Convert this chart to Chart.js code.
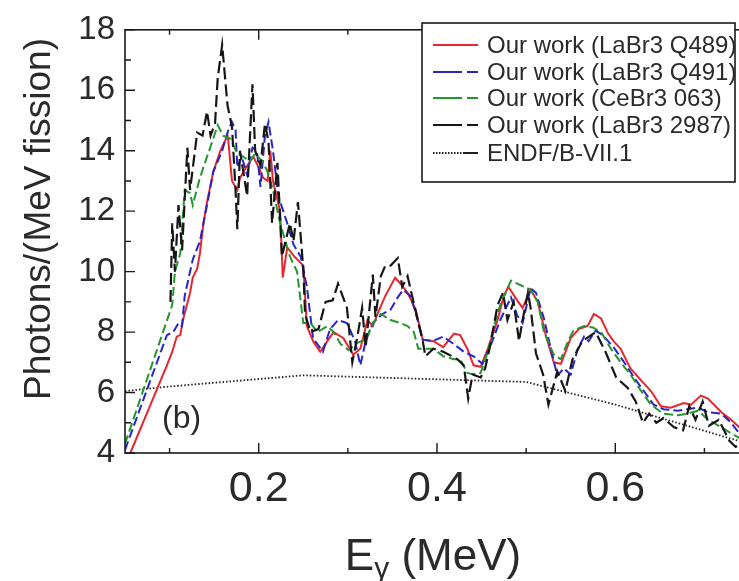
<!DOCTYPE html>
<html>
<head>
<meta charset="utf-8">
<script src="https://cdn.jsdelivr.net/npm/chart.js@4.4.1/dist/chart.umd.min.js"></script>
<style>
    html, body { margin: 0; padding: 0; background: #fff; overflow: hidden; }
    #wrap { width: 760px; height: 581px; }
</style>
</head>
<body>
<div id="wrap"><canvas id="spectrum" width="760" height="581"></canvas></div>
<script>
// photon spectra, E in MeV, photons/(MeV fission)
const eQ489 = [0.056, 0.097, 0.103, 0.108, 0.112, 0.115, 0.123, 0.126, 0.131, 0.134, 0.138, 0.142, 0.149, 0.157, 0.165, 0.166, 0.170, 0.176, 0.179, 0.187, 0.194, 0.199, 0.205, 0.210, 0.213, 0.216, 0.224, 0.227, 0.232, 0.240, 0.250, 0.254, 0.261, 0.269, 0.277, 0.284, 0.295, 0.306, 0.314, 0.322, 0.328, 0.334, 0.342, 0.353, 0.359, 0.367, 0.376, 0.384, 0.396, 0.407, 0.419, 0.426, 0.434, 0.441, 0.449, 0.457, 0.468, 0.475, 0.480, 0.490, 0.496, 0.505, 0.513, 0.522, 0.531, 0.539, 0.550, 0.559, 0.569, 0.576, 0.584, 0.592, 0.598, 0.606, 0.617, 0.629, 0.640, 0.651, 0.662, 0.677, 0.685, 0.696, 0.704, 0.719, 0.730, 0.739, 0.750];
const yQ489 = [4.0, 6.9, 7.35, 7.85, 7.9, 8.4, 9.3, 9.8, 10.1, 10.6, 11.6, 12.3, 13.3, 14.0, 14.5, 14.3, 13.0, 12.7, 13.1, 13.5, 13.8, 13.5, 13.1, 13.0, 14.0, 13.0, 12.0, 9.8, 10.8, 10.5, 10.2, 8.2, 7.7, 7.35, 7.7, 8.0, 7.8, 7.25, 7.45, 8.4, 8.2, 8.65, 9.2, 9.8, 9.6, 9.3, 8.75, 7.75, 7.7, 7.5, 7.95, 7.9, 7.45, 6.9, 6.85, 7.45, 8.4, 9.2, 9.5, 9.05, 8.8, 9.4, 9.0, 7.9, 7.0, 6.95, 7.8, 8.1, 8.2, 8.6, 8.45, 7.95, 7.7, 7.45, 6.8, 6.4, 6.05, 5.55, 5.5, 5.65, 5.6, 5.9, 5.8, 5.35, 5.1, 4.85, 4.6];

const eQ491 = [0.050, 0.097, 0.104, 0.110, 0.114, 0.117, 0.126, 0.134, 0.142, 0.149, 0.159, 0.166, 0.170, 0.174, 0.176, 0.181, 0.187, 0.193, 0.198, 0.202, 0.207, 0.211, 0.216, 0.222, 0.232, 0.239, 0.247, 0.254, 0.261, 0.272, 0.280, 0.289, 0.299, 0.308, 0.314, 0.320, 0.328, 0.339, 0.348, 0.356, 0.362, 0.370, 0.376, 0.384, 0.395, 0.407, 0.419, 0.430, 0.441, 0.451, 0.462, 0.471, 0.483, 0.490, 0.496, 0.505, 0.511, 0.520, 0.528, 0.535, 0.542, 0.550, 0.558, 0.565, 0.570, 0.578, 0.586, 0.598, 0.610, 0.621, 0.632, 0.643, 0.654, 0.670, 0.681, 0.693, 0.704, 0.719, 0.730, 0.739, 0.750];
const yQ491 = [4.1, 7.9, 8.0, 8.3, 8.2, 9.2, 10.4, 11.0, 12.2, 13.3, 14.0, 14.7, 14.95, 14.7, 13.45, 13.8, 13.2, 14.1, 14.0, 12.8, 14.5, 14.95, 14.0, 12.5, 11.6, 10.9, 10.5, 9.5, 7.8, 7.35, 8.1, 8.4, 8.3, 7.7, 6.9, 7.7, 8.3, 8.6, 8.75, 9.15, 9.4, 9.2, 8.65, 7.75, 7.7, 7.85, 7.6, 7.35, 7.2, 6.95, 7.7, 8.4, 9.15, 8.55, 8.3, 9.45, 9.3, 8.45, 7.4, 6.55, 6.8, 6.6, 7.45, 7.85, 7.7, 8.05, 7.9, 7.5, 7.0, 6.5, 6.05, 5.6, 5.45, 5.4, 5.45, 5.5, 5.35, 5.3, 5.0, 4.65, 4.4];

const eCe063 = [0.050, 0.103, 0.106, 0.112, 0.117, 0.123, 0.126, 0.134, 0.142, 0.149, 0.154, 0.160, 0.168, 0.176, 0.183, 0.190, 0.196, 0.204, 0.210, 0.216, 0.224, 0.230, 0.235, 0.243, 0.250, 0.258, 0.266, 0.277, 0.284, 0.292, 0.301, 0.311, 0.320, 0.328, 0.337, 0.348, 0.359, 0.367, 0.374, 0.379, 0.387, 0.396, 0.407, 0.419, 0.426, 0.434, 0.441, 0.449, 0.457, 0.463, 0.471, 0.483, 0.494, 0.505, 0.513, 0.520, 0.531, 0.539, 0.547, 0.553, 0.565, 0.575, 0.584, 0.595, 0.606, 0.617, 0.629, 0.640, 0.654, 0.670, 0.681, 0.693, 0.704, 0.719, 0.730, 0.739, 0.750];
const yCe063 = [4.3, 8.9, 10.0, 10.6, 12.7, 12.6, 12.2, 13.1, 13.8, 14.4, 14.85, 14.5, 14.4, 13.9, 13.8, 13.65, 13.9, 13.65, 13.3, 12.7, 11.6, 11.0, 10.5, 10.0, 8.3, 8.3, 8.0, 8.2, 8.0, 7.6, 7.4, 7.65, 7.75, 8.3, 8.6, 8.4, 8.3, 8.2, 8.0, 7.45, 7.45, 7.45, 7.2, 7.1, 7.1, 6.65, 6.6, 6.65, 7.35, 8.1, 8.9, 9.7, 9.55, 9.4, 9.0, 8.0, 7.25, 7.1, 7.7, 8.05, 8.2, 8.15, 8.0, 7.45, 7.0, 6.6, 6.05, 5.6, 5.3, 5.25, 5.3, 5.4, 5.1, 4.85, 4.65, 4.5, 4.35];

const e2987 = [0.101, 0.103, 0.106, 0.110, 0.114, 0.120, 0.123, 0.131, 0.137, 0.142, 0.146, 0.151, 0.154, 0.159, 0.165, 0.170, 0.174, 0.176, 0.179, 0.187, 0.193, 0.196, 0.202, 0.207, 0.211, 0.215, 0.221, 0.226, 0.235, 0.239, 0.244, 0.250, 0.252, 0.258, 0.267, 0.275, 0.283, 0.289, 0.299, 0.305, 0.311, 0.316, 0.320, 0.328, 0.331, 0.337, 0.342, 0.348, 0.356, 0.361, 0.367, 0.372, 0.384, 0.387, 0.396, 0.407, 0.423, 0.430, 0.435, 0.440, 0.449, 0.454, 0.460, 0.468, 0.474, 0.479, 0.486, 0.492, 0.496, 0.502, 0.505, 0.511, 0.519, 0.525, 0.535, 0.544, 0.552, 0.563, 0.578, 0.589, 0.601, 0.614, 0.623, 0.631, 0.638, 0.646, 0.654, 0.666, 0.676, 0.683, 0.690, 0.698, 0.705, 0.716, 0.728, 0.735, 0.745];
const y2987 = [9.0, 11.6, 10.0, 12.2, 10.7, 14.1, 12.7, 14.6, 14.5, 15.3, 14.5, 14.9, 16.4, 17.5, 15.5, 14.8, 12.7, 11.4, 14.0, 12.5, 16.2, 14.0, 13.5, 14.9, 14.3, 11.6, 13.6, 10.5, 11.6, 11.0, 12.3, 10.1, 8.6, 8.0, 8.1, 9.0, 9.05, 9.6, 8.8, 7.0, 7.9, 8.8, 7.5, 9.9, 8.5, 9.85, 10.2, 10.2, 10.45, 9.5, 9.85, 9.2, 7.7, 7.2, 7.45, 7.35, 7.1, 6.9, 5.8, 6.6, 6.5, 6.8, 7.6, 8.9, 9.3, 8.4, 9.0, 7.7, 8.4, 9.3, 8.8, 7.3, 6.6, 5.6, 6.7, 6.05, 7.1, 7.7, 8.0, 7.35, 6.5, 6.15, 5.7, 5.0, 5.3, 5.0, 5.15, 4.85, 4.75, 5.55, 5.1, 5.7, 4.9, 5.1, 4.4, 4.2, 4.4];

const eEndf = [0.050, 0.100, 0.250, 0.500, 0.600, 0.750];
const yEndf = [6.05, 6.2, 6.57, 6.35, 5.6, 4.3];

const xTickValues = [0.1, 0.2, 0.3, 0.4, 0.5, 0.6, 0.7];
const xLabelValues = [0.2, 0.4, 0.6];
const yTickValues = [4, 5, 6, 7, 8, 9, 10, 11, 12, 13, 14, 15, 16, 17, 18];
const yLabelValues = [4, 6, 8, 10, 12, 14, 16, 18];

const legendNames = [
    "Our work (LaBr3 Q489)",
    "Our work (LaBr3 Q491)",
    "Our work (CeBr3 063)",
    "Our work (LaBr3 2987)",
    "ENDF/B-VII.1",
];

const FONT = '"Liberation Sans", Arial, sans-serif';
const INK = "#2a2a2a";

function points(xs, ys) {
    return xs.map((x, i) => ({ x: x, y: ys[i] }));
}

function isLabel(list, v) {
    return list.some((l) => Math.abs(l - v) < 1e-6);
}

// box frame, inward ticks on all four sides, titles and legend
const decorations = {
    id: "decorations",
    afterDraw(chart) {
        const { ctx, chartArea: a, scales } = chart;
        ctx.save();
        ctx.strokeStyle = "#1a1a1a";
        ctx.lineWidth = 1.6;
        ctx.strokeRect(a.left, a.top, a.right - a.left, a.bottom - a.top);

        ctx.lineWidth = 1.4;
        ctx.beginPath();
        for (const v of xTickValues) {
            const px = scales.x.getPixelForValue(v);
            const len = isLabel(xLabelValues, v) ? 10 : 5;
            ctx.moveTo(px, a.bottom);
            ctx.lineTo(px, a.bottom - len);
            ctx.moveTo(px, a.top);
            ctx.lineTo(px, a.top + len);
        }
        for (const v of yTickValues) {
            const py = scales.y.getPixelForValue(v);
            const len = isLabel(yLabelValues, v) ? 10 : 6;
            ctx.moveTo(a.left, py);
            ctx.lineTo(a.left + len, py);
            ctx.moveTo(a.right, py);
            ctx.lineTo(a.right - len, py);
        }
        ctx.stroke();

        // axis titles
        ctx.fillStyle = INK;
        ctx.textBaseline = "alphabetic";
        ctx.font = "44px " + FONT;
        const wE = ctx.measureText("E").width;
        const wRest = ctx.measureText(" (MeV)").width;
        ctx.font = "30px " + FONT;
        const wG = ctx.measureText("\u03b3").width;
        let tx = 433 - (wE + wG + wRest) / 2;
        const ty = 570;
        ctx.font = "44px " + FONT;
        ctx.textAlign = "left";
        ctx.fillText("E", tx, ty);
        ctx.font = "30px " + FONT;
        ctx.fillText("\u03b3", tx + wE, ty + 8);
        ctx.font = "44px " + FONT;
        ctx.fillText(" (MeV)", tx + wE + wG, ty);

        ctx.save();
        ctx.translate(40, 219);
        ctx.rotate(-Math.PI / 2);
        ctx.font = "37px " + FONT;
        ctx.textAlign = "center";
        ctx.textBaseline = "middle";
        ctx.fillText("Photons/(MeV fission)", 0, 0);
        ctx.restore();

        ctx.font = "32px " + FONT;
        ctx.textAlign = "left";
        ctx.fillText("(b)", 162, 428);

        // legend
        const bx = 422, by = 23, bw = 313, bh = 159;
        ctx.fillStyle = "#fff";
        ctx.fillRect(bx, by, bw, bh);
        ctx.strokeStyle = "#1a1a1a";
        ctx.lineWidth = 1.6;
        ctx.strokeRect(bx, by, bw, bh);
        const rows = [45, 72, 98, 125, 153];
        chart.data.datasets.forEach((ds, i) => {
            const ry = rows[i];
            ctx.strokeStyle = ds.borderColor;
            ctx.lineWidth = 2;
            ctx.beginPath();
            if (i === 0) {
                ctx.moveTo(433, ry);
                ctx.lineTo(478, ry);
            } else if (i < 4) {
                ctx.moveTo(433, ry);
                ctx.lineTo(462, ry);
                ctx.moveTo(467, ry);
                ctx.lineTo(478, ry);
            } else {
                ctx.setLineDash([1.5, 1.5]);
                ctx.moveTo(433, ry);
                ctx.lineTo(462, ry);
                ctx.stroke();
                ctx.setLineDash([]);
                ctx.beginPath();
                ctx.moveTo(463, ry);
                ctx.lineTo(478, ry);
            }
            ctx.stroke();
            ctx.fillStyle = INK;
            ctx.font = "24px " + FONT;
            ctx.textBaseline = "middle";
            ctx.fillText(legendNames[i], 487, ry + 1);
        });
        ctx.restore();
    },
};

const lineBase = {
    fill: false,
    tension: 0,
    pointRadius: 0,
    borderWidth: 2,
};

new Chart(document.getElementById("spectrum"), {
    type: "line",
    data: {
        datasets: [
            {
                ...lineBase,
                label: legendNames[0],
                data: points(eQ489, yQ489),
                borderColor: "#e8262e",
                order: 3,
            },
            {
                ...lineBase,
                label: legendNames[1],
                data: points(eQ491, yQ491),
                borderColor: "#2626c8",
                borderDash: [9, 4],
                order: 2,
            },
            {
                ...lineBase,
                label: legendNames[2],
                data: points(eCe063, yCe063),
                borderColor: "#23962d",
                borderDash: [9, 4],
                order: 1,
            },
            {
                ...lineBase,
                label: legendNames[3],
                data: points(e2987, y2987),
                borderColor: "#161616",
                borderWidth: 2.2,
                borderDash: [12, 5],
                order: 0,
            },
            {
                ...lineBase,
                label: legendNames[4],
                data: points(eEndf, yEndf),
                borderColor: "#202020",
                borderWidth: 1.8,
                borderDash: [1.5, 2],
                order: 4,
            },
        ],
    },
    options: {
        responsive: false,
        animation: false,
        devicePixelRatio: 1,
        layout: { padding: { top: 23, right: 11, left: 0, bottom: 0 } },
        plugins: {
            legend: { display: false },
            tooltip: { enabled: false },
        },
        scales: {
            x: {
                type: "linear",
                min: 0.05,
                max: 0.75,
                grid: { display: false, drawTicks: false },
                border: { display: false },
                afterBuildTicks: (scale) => {
                    scale.ticks = xTickValues.map((v) => ({ value: v }));
                },
                afterFit: (scale) => {
                    scale.height = 128;
                },
                ticks: {
                    autoSkip: false,
                    maxRotation: 0,
                    padding: 10,
                    color: INK,
                    font: { family: FONT, size: 43 },
                    callback: (v) => (isLabel(xLabelValues, v) ? v.toFixed(1) : ""),
                },
            },
            y: {
                type: "linear",
                min: 4,
                max: 18,
                grid: { display: false, drawTicks: false },
                border: { display: false },
                afterBuildTicks: (scale) => {
                    scale.ticks = yTickValues.map((v) => ({ value: v }));
                },
                afterFit: (scale) => {
                    scale.width = 125;
                },
                ticks: {
                    autoSkip: false,
                    padding: 10,
                    color: INK,
                    font: { family: FONT, size: 33 },
                    callback: (v) => (isLabel(yLabelValues, v) ? String(v) : ""),
                },
            },
        },
    },
    plugins: [decorations],
});
</script>
</body>
</html>
